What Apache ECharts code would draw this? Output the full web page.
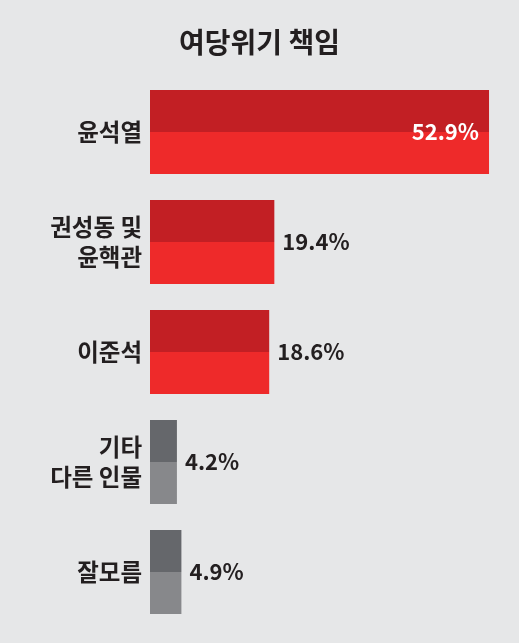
<!DOCTYPE html>
<html>
<head>
<meta charset="utf-8">
<script src="https://cdn.jsdelivr.net/npm/echarts@6/dist/echarts.min.js"></script>
<style>
html, body { margin: 0; padding: 0; background: #e6e7e8; }
#chart { width: 519px; height: 643px; }
</style>
</head>
<body>
<div id="chart"></div>
<script>
// data
const categories = ['윤석열', '권성동 및\n윤핵관', '이준석', '기타\n다른 인물', '잘모름'];
const values = [52.9, 19.4, 18.6, 4.2, 4.9];
const isOther = [false, false, false, true, true];

const FONT = '"Noto Sans CJK KR", "Noto Sans", sans-serif';

function twoTone(top, bottom) {
  return new echarts.graphic.LinearGradient(0, 0, 0, 1, [
    { offset: 0, color: top },
    { offset: 0.5, color: top },
    { offset: 0.5, color: bottom },
    { offset: 1, color: bottom }
  ]);
}

const chart = echarts.init(document.getElementById('chart'));

const option = {
  backgroundColor: '#e6e7e8',
  animation: false,
  title: {
    text: '여당위기 책임',
    left: 'center',
    top: 23,
    textStyle: { fontFamily: FONT, fontSize: 28, fontWeight: 'bold', color: '#231f20' }
  },
  grid: { left: 150, right: 16.5, top: 77, bottom: 16 },
  xAxis: {
    type: 'value',
    min: 0,
    max: 55,
    show: false
  },
  yAxis: {
    type: 'category',
    inverse: true,
    data: categories,
    axisLine: { show: false },
    axisTick: { show: false },
    axisLabel: {
      margin: 8,
      fontFamily: FONT,
      fontSize: 23.5,
      fontWeight: 'bold',
      lineHeight: 30,
      color: '#231f20',
      align: 'right'
    }
  },
  series: [{
    type: 'bar',
    barWidth: 84,
    data: values.map((v, i) => {
      const first = i === 0;
      return {
        value: v,
        itemStyle: {
          color: isOther[i] ? twoTone('#65676b', '#87888b') : twoTone('#c21f24', '#ee2a2a')
        },
        label: {
          show: true,
          position: first ? 'insideRight' : 'right',
          distance: first ? 10 : 8,
          formatter: '{c}%',
          fontFamily: FONT,
          fontSize: 22,
          fontWeight: 'bold',
          color: first ? '#ffffff' : '#231f20'
        }
      };
    })
  }]
};

chart.setOption(option);
</script>
</body>
</html>
